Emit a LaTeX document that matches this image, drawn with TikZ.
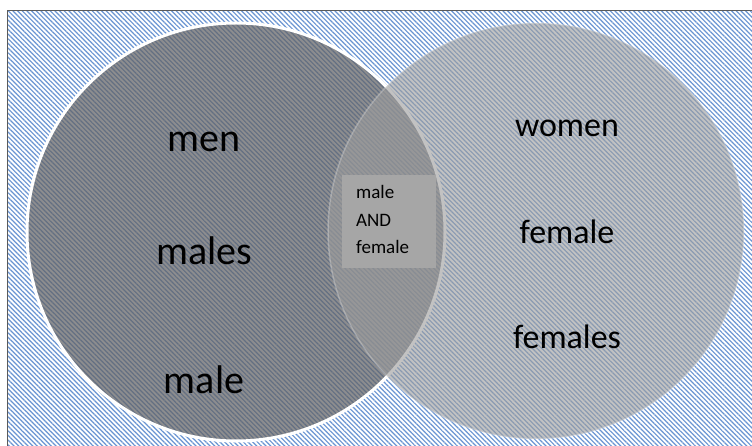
\documentclass[tikz,border=0pt]{standalone}
\usepackage{fontspec}
\setmainfont{Carlito}
\usetikzlibrary{patterns.meta}
\definecolor{stripeblue}{RGB}{105,148,210}
\definecolor{leftgray}{RGB}{98,98,100}
\definecolor{rightgray}{RGB}{158,158,158}
\definecolor{boxgray}{RGB}{166,166,166}
\definecolor{framegray}{RGB}{90,90,90}
\tikzset{
  bigword/.style={anchor=base, font=\fontsize{40}{48}\selectfont, text=black, inner sep=0pt},
  rightword/.style={anchor=base, font=\fontsize{34}{40}\selectfont, text=black, inner sep=0pt},
  boxword/.style={anchor=base west, font=\fontsize{19}{22}\selectfont, text=black, inner sep=0pt},
  setcircle/.style={circle, inner sep=0pt, outer sep=0pt},
}
\begin{document}
\begin{tikzpicture}[x=1pt,y=-1pt]
\useasboundingbox (0,0) rectangle (752,446);
\clip (0,0) rectangle (752,446);
\fill[white] (0,0) rectangle (752,446);
% hatched background
\fill[pattern={Lines[angle=-45,distance=3.3pt,line width=1.2pt]}, pattern color=stripeblue] (7.5,10.5) rectangle (770,470);
\draw[framegray, line width=1.5pt] (7.5,480) -- (7.5,10.5) -- (770,10.5);
% circles
\node[setcircle, minimum size=418pt, fill=leftgray, fill opacity=0.72, draw=white, line width=3pt] (L) at (236,232) {};
\node[setcircle, minimum size=416pt, fill=rightgray, fill opacity=0.62, draw=white, draw opacity=0.25, line width=1.5pt] (R) at (536,231) {};
% intersection box
\node[rectangle, fill=boxgray, minimum width=94pt, minimum height=93pt, inner sep=0pt] (box) at (389,221.5) {};
\node[boxword] (b1) at (356,199) {male};
\node[boxword] (b2) at (356,227) {AND};
\node[boxword] (b3) at (356,254) {female};
% left words
\node[bigword] (w1) at (204,152) {men};
\node[bigword] (w2) at (204,265) {males};
\node[bigword] (w3) at (204,393) {male};
% right words
\node[rightword] (w4) at (567,137) {women};
\node[rightword] (w5) at (567,244) {female};
\node[rightword] (w6) at (567,348) {females};
\end{tikzpicture}
\end{document}
